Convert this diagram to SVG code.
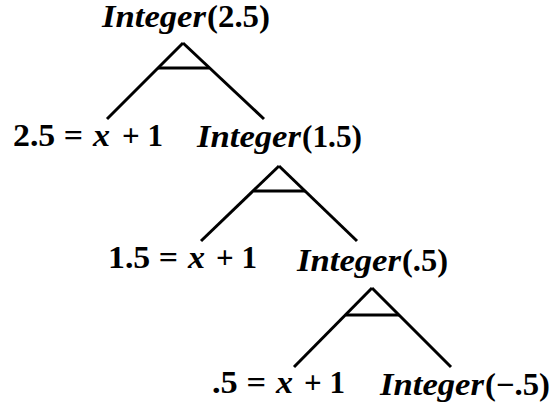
<svg xmlns="http://www.w3.org/2000/svg" width="554" height="406" viewBox="0 0 554 406">
<style>
.t{font-family:"Liberation Serif","DejaVu Serif",serif;font-size:31px;font-weight:bold;fill:#000}
.i{font-style:italic}
.c line{stroke:#000;stroke-width:3;fill:none}
</style>
<rect width="554" height="406" fill="#fff"/>
<g class="c" id="connectors">
<line x1="183" y1="43" x2="107" y2="119"/>
<line x1="183" y1="43" x2="264" y2="119"/>
<line x1="158" y1="68" x2="209" y2="68"/>
<line x1="279" y1="166" x2="201" y2="241"/>
<line x1="279" y1="166" x2="357" y2="241"/>
<line x1="254" y1="191" x2="305" y2="191"/>
<line x1="372" y1="288" x2="294" y2="367"/>
<line x1="372" y1="288" x2="451" y2="367"/>
<line x1="346" y1="315" x2="399" y2="315"/>
</g>
<g id="n1">
<text class="t i" x="102" y="27" textLength="104" lengthAdjust="spacingAndGlyphs">Integer</text>
<text class="t" x="207" y="27" textLength="63" lengthAdjust="spacingAndGlyphs">(2.5)</text>
</g>
<g id="n2">
<text class="t" x="13" y="146" textLength="70" lengthAdjust="spacingAndGlyphs">2.5 =</text>
<text class="t i" x="93" y="146" textLength="17" lengthAdjust="spacingAndGlyphs">x</text>
<text class="t" x="122" y="146" textLength="41" lengthAdjust="spacingAndGlyphs">+ 1</text>
</g>
<g id="n3">
<text class="t i" x="197" y="147" textLength="104" lengthAdjust="spacingAndGlyphs">Integer</text>
<text class="t" x="302" y="147" textLength="60" lengthAdjust="spacingAndGlyphs">(1.5)</text>
</g>
<g id="n4">
<text class="t" x="108" y="268" textLength="70" lengthAdjust="spacingAndGlyphs">1.5 =</text>
<text class="t i" x="188" y="268" textLength="17" lengthAdjust="spacingAndGlyphs">x</text>
<text class="t" x="216" y="268" textLength="41" lengthAdjust="spacingAndGlyphs">+ 1</text>
</g>
<g id="n5">
<text class="t i" x="297" y="271" textLength="104" lengthAdjust="spacingAndGlyphs">Integer</text>
<text class="t" x="402" y="271" textLength="46" lengthAdjust="spacingAndGlyphs">(.5)</text>
</g>
<g id="n6">
<text class="t" x="212" y="393" textLength="54" lengthAdjust="spacingAndGlyphs">.5 =</text>
<text class="t i" x="276" y="393" textLength="17" lengthAdjust="spacingAndGlyphs">x</text>
<text class="t" x="304" y="393" textLength="41" lengthAdjust="spacingAndGlyphs">+ 1</text>
</g>
<g id="n7">
<text class="t i" x="380" y="395" textLength="104" lengthAdjust="spacingAndGlyphs">Integer</text>
<text class="t" x="485" y="395" textLength="65" lengthAdjust="spacingAndGlyphs">(−.5)</text>
</g>
</svg>
